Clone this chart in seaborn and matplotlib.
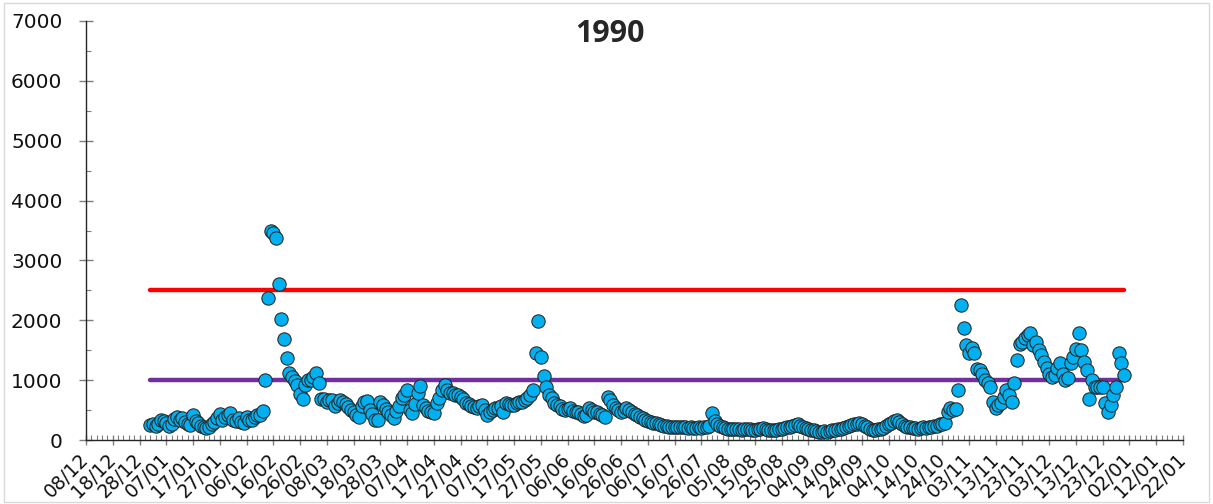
import matplotlib
matplotlib.use("Agg")
import matplotlib.pyplot as plt
import matplotlib.dates as mdates
from matplotlib.patches import Rectangle
import pandas as pd
import seaborn as sns

# daily values for 1990, one list per month
jan = [250, 260, 240, 270, 330, 310, 280, 230, 260, 350, 390, 340, 360, 300, 270,
       250, 410, 320, 280, 240, 220, 200, 220, 260, 300, 360, 440, 340, 390, 420, 450]
feb = [340, 310, 360, 300, 280, 390, 340, 330, 390, 410, 420, 480, 1000, 2380,
       3500, 3450, 3370, 2600, 2020, 1680, 1370, 1120, 1060, 980, 920, 770, 690, 920]
mar = [1000, 1010, 1050, 1120, 960, 690, 680, 640, 660, 670, 560, 620, 660, 640, 600,
       550, 500, 470, 420, 390, 560, 640, 650, 500, 430, 340, 330, 640, 590, 520, 470]
apr = [420, 370, 480, 560, 700, 760, 830, 500, 450, 600, 780, 900, 590, 530, 480,
       460, 450, 620, 700, 840, 920, 840, 790, 780, 760, 750, 720, 690, 620, 600]
may = [560, 550, 530, 570, 590, 500, 420, 470, 500, 530, 540, 560, 470, 610, 600,
       580, 590, 610, 630, 640, 670, 700, 760, 830, 1450, 1980, 1390, 1070, 890, 750, 700]
jun = [620, 580, 560, 520, 500, 520, 530, 490, 470, 460, 440, 400, 420, 530, 500,
       470, 460, 440, 420, 390, 720, 670, 590, 540, 500, 470, 480, 530, 500, 470]
jul = [440, 420, 390, 370, 340, 310, 300, 290, 280, 270, 250, 240, 230, 225, 220,
       220, 220, 215, 210, 210, 205, 210, 200, 205, 210, 200, 210, 220, 230, 450, 310]
aug = [260, 230, 210, 200, 190, 185, 180, 190, 185, 175, 180, 190, 185, 175, 170,
       180, 190, 195, 185, 175, 170, 165, 170, 180, 190, 200, 210, 220, 240, 250, 260]
sep = [240, 220, 200, 180, 170, 160, 150, 140, 140, 150, 140, 150, 160, 170, 180,
       190, 200, 210, 230, 250, 260, 270, 280, 270, 240, 210, 190, 170, 170, 180]
oct_ = [180, 200, 230, 260, 290, 320, 330, 300, 270, 240, 220, 210, 200, 200, 190,
        200, 210, 200, 210, 220, 230, 240, 260, 270, 280, 470, 530, 500, 520, 830, 2250]
nov = [1870, 1590, 1450, 1530, 1450, 1190, 1170, 1110, 1000, 950, 890, 640, 530, 590, 610,
       720, 830, 750, 640, 950, 1340, 1610, 1640, 1700, 1750, 1780, 1590, 1640, 1500, 1420]
dec = [1310, 1200, 1110, 1060, 1090, 1200, 1280, 1110, 1000, 1030, 1280, 1390, 1520, 1790, 1500,
       1310, 1170, 680, 1000, 890, 890, 880, 890, 610, 470, 590, 750, 890, 1460, 1280, 1090]

upper_limit = 2500
lower_limit = 1000
title = "1990"

values = jan + feb + mar + apr + may + jun + jul + aug + sep + oct_ + nov + dec
dates = pd.date_range("1990-01-01", periods=len(values), freq="D")
df = pd.DataFrame({"date": dates, "value": values})

limits = pd.DataFrame({
    "date": [dates[0], dates[-1], dates[0], dates[-1]],
    "value": [upper_limit, upper_limit, lower_limit, lower_limit],
    "kind": ["upper", "upper", "lower", "lower"],
})

sns.set_style("white")
W, H = 1213, 504
fig = plt.figure(figsize=(W / 100, H / 100), dpi=100)
ax = fig.add_axes([86 / W, (H - 440) / H, (1183 - 86) / W, (440 - 21) / H])

sns.lineplot(data=limits, x="date", y="value", hue="kind",
             palette={"upper": "#FF0000", "lower": "#7030A0"},
             linewidth=3.2, solid_capstyle="round", legend=False, ax=ax, zorder=1)
sns.scatterplot(data=df, x="date", y="value", s=92, color="#00B0F0",
                edgecolor="#262626", linewidth=0.75, legend=False, ax=ax, zorder=3)

### axes format ###
ax.set_xlim(pd.Timestamp("1989-12-08"), pd.Timestamp("1991-01-22"))
ax.set_ylim(0, 7000)
ax.set_xlabel("")
ax.set_ylabel("")

xmajor = pd.date_range("1989-12-08", "1991-01-22", freq="10D")
xminor = pd.date_range("1989-12-08", "1991-01-22", freq="2D")
ax.xaxis.set_major_locator(matplotlib.ticker.FixedLocator(mdates.date2num(xmajor)))
ax.xaxis.set_minor_locator(matplotlib.ticker.FixedLocator(mdates.date2num(xminor)))
ax.xaxis.set_major_formatter(mdates.DateFormatter("%d/%m"))
ax.yaxis.set_major_locator(matplotlib.ticker.MultipleLocator(1000))
ax.yaxis.set_minor_locator(matplotlib.ticker.MultipleLocator(500))

ax.tick_params(which="both", bottom=True, left=True)
ax.tick_params(axis="x", which="major", direction="inout", length=7.5, width=1,
               color="#7f7f7f", labelsize=13.5, labelcolor="#111111", pad=8)
ax.tick_params(axis="x", which="minor", direction="in", length=3.6, width=0.8,
               color="#7f7f7f")
ax.tick_params(axis="y", which="major", direction="inout", length=10, width=1,
               color="#7f7f7f", labelsize=14.5, labelcolor="#111111", pad=12)
ax.tick_params(axis="y", which="minor", direction="in", length=3.6, width=0.8,
               color="#7f7f7f")
plt.setp(ax.get_xticklabels(), rotation=45, ha="right", va="center",
         rotation_mode="anchor")

for side in ["top", "right"]:
    ax.spines[side].set_visible(False)
for side in ["left", "bottom"]:
    ax.spines[side].set_color("#262626")
    ax.spines[side].set_linewidth(1)

fig.text(610 / W, 1 - 34 / H, title, ha="center", va="center",
         fontsize=22, fontweight="bold", family="Open Sans")

# light chart-area border
fig.add_artist(Rectangle((4 / W, 2 / H), 1205 / W, 499 / H, transform=fig.transFigure,
                         fill=False, edgecolor="#D9D9D9", linewidth=1))

fig.savefig("out.png", dpi=100)
